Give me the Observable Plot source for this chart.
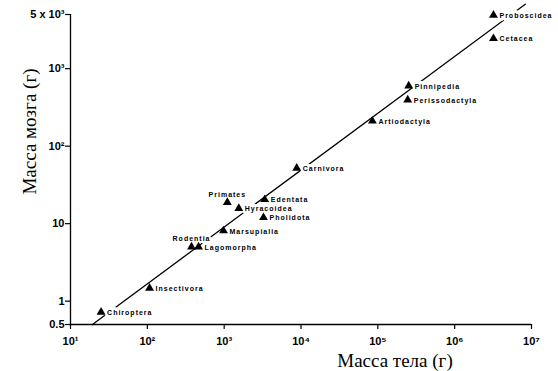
<!DOCTYPE html>
<html><head><meta charset="utf-8">
<script src="https://cdn.jsdelivr.net/npm/d3@7"></script>
<script src="https://cdn.jsdelivr.net/npm/@observablehq/plot@0.6"></script>
<style>body{margin:0;background:#fff}</style>
</head><body><div id="chart"></div>
<script>
// Orders of mammals: body mass (g) and brain mass (g)
const orders = ["Chiroptera","Insectivora","Rodentia","Lagomorpha","Marsupialia","Primates","Hyracoidea","Edentata","Pholidota","Carnivora","Artiodactyla","Perissodactyla","Pinnipedia","Cetacea","Proboscidea"];
const bodyMass = [25, 107, 376, 464, 980, 1100, 1550, 3370, 3250, 8800, 85000, 245000, 252000, 3.2e6, 3.2e6];
const brainMass = [0.72, 1.47, 5.0, 5.0, 8.1, 18.8, 15.7, 20.5, 12, 52, 211, 395, 600, 2450, 4900];
const labelAbove = ["Primates", "Rodentia"];

// fitted allometric line (end points)
const fitBody = [19.3, 8.3e6];
const fitBrain = [0.5, 6800];

const xTicks = [10, 100, 1e3, 1e4, 1e5, 1e6, 1e7];
const xTickLabels = ["10¹", "10²", "10³", "10⁴", "10⁵", "10⁶", "10⁷"];
const yTicks = [0.5, 1, 10, 100, 1000, 5000];
const yTickLabels = ["0.5", "1", "10", "10²", "10³", "5 x 10³"];

const xTitle = "Масса тела (г)";
const yTitle = "Масса мозга (г)";

const data = orders.map((o, i) => ({order: o, body: bodyMass[i], brain: brainMass[i]}));
const fit = fitBody.map((b, i) => ({body: b, brain: fitBrain[i]}));
const yTickData = yTicks.map((v, i) => ({v, label: yTickLabels[i]}));

function labelFor(ticks, labels) {
  return (d) => {
    const i = ticks.findIndex(t => Math.abs(+d - t) / t < 1e-6);
    return i < 0 ? "" : labels[i];
  };
}

const chart = Plot.plot({
  width: 558,
  height: 371,
  marginLeft: 70,
  marginRight: 27,
  marginTop: 14,
  marginBottom: 47,
  style: {fontFamily: "'Liberation Sans', Arial, sans-serif", background: "#fff", color: "#000"},
  x: {type: "log", domain: [10, 1e7]},
  y: {type: "log", domain: [0.5, 5000]},
  marks: [
    Plot.ruleX([10], {stroke: "#000", strokeWidth: 1.3}),
    Plot.ruleY([0.5], {stroke: "#000", strokeWidth: 1.3}),
    Plot.axisX({ticks: xTicks, tickFormat: labelFor(xTicks, xTickLabels), tickSize: 5, tickPadding: 8, fontSize: 11, fontWeight: "bold", label: null, stroke: "#000", strokeWidth: 1.2}),
    Plot.axisY({ticks: yTicks, tickFormat: null, text: null, tickSize: 5, label: null, stroke: "#000", strokeWidth: 1.2}),
    Plot.text(yTickData, {frameAnchor: "left", y: "v", text: "label", textAnchor: "end", dx: -6, fontSize: 11, fontWeight: "bold", fill: "#000"}),
    Plot.line(fit, {x: "body", y: "brain", stroke: "#000", strokeWidth: 1.3}),
    Plot.text(data.filter(d => !labelAbove.includes(d.order)), {x: "body", y: "brain", text: "order", textAnchor: "start", dx: 6, dy: 0.5, fontSize: 7, fontWeight: "bold", fill: "#000", stroke: "#fff", strokeWidth: 6}),
    Plot.text(data.filter(d => labelAbove.includes(d.order)), {x: "body", y: "brain", text: "order", textAnchor: "middle", dx: 0, dy: -8, fontSize: 7, fontWeight: "bold", fill: "#000", stroke: "#fff", strokeWidth: 4}),
    Plot.dot(data, {x: "body", y: "brain", symbol: "triangle", r: 3.3, fill: "#000", stroke: "none"}),
    Plot.text([xTitle], {frameAnchor: "bottom", text: d => d, textAnchor: "middle", dx: 94, dy: 42, lineAnchor: "bottom", fontSize: 19, fontFamily: "'Liberation Serif', 'Times New Roman', serif", fill: "#000"}),
    Plot.text([yTitle], {frameAnchor: "left", text: d => d, textAnchor: "middle", rotate: -90, dx: -35, dy: -38, lineAnchor: "bottom", fontSize: 19, fontFamily: "'Liberation Serif', 'Times New Roman', serif", fill: "#000"})
  ]
});

d3.select(chart).selectAll('g[aria-label="text"]')
  .filter(function () { return this.getAttribute("font-size") === "7"; })
  .attr("letter-spacing", "1");

document.getElementById("chart").appendChild(chart);
</script>
</body></html>
